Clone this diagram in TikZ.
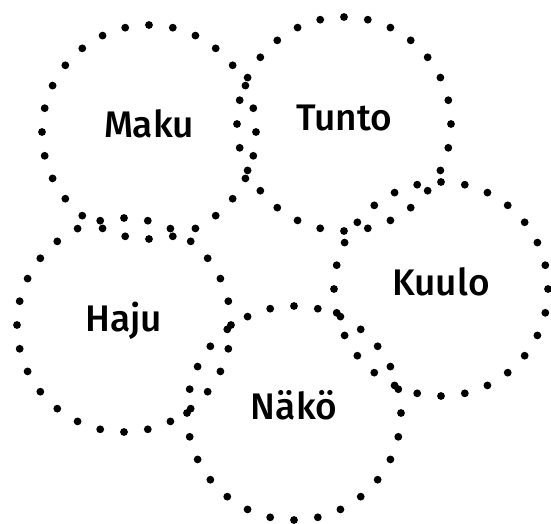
\documentclass[tikz,border=0pt]{standalone}
\usepackage{fontspec}
\setmainfont{Fira Sans}[UprightFont=* Medium]
\begin{document}
\begin{tikzpicture}[x=1pt,y=-1pt,
  ring/.style={circle,minimum size=214pt,inner sep=0pt},
  lbl/.style={anchor=base,font=\fontsize{37}{37}\selectfont},
  dotfill/.style={fill=black}]
\useasboundingbox (0,0) rectangle (551,524);
\node[ring] (maku) at (149,132) {};
\node[ring] (tunto) at (344,124) {};
\node[ring] (haju) at (124,325) {};
\node[ring] (kuulo) at (441,289) {};
\node[ring] (nako) at (294,413) {};
\foreach \c in {maku,tunto,haju,kuulo,nako}{
  \foreach \i in {0,...,27}{
    \fill[dotfill] (\c.center) ++(\i*360/28:107pt) circle (3.9pt);
  }
}
\node[lbl] (tmaku) at ([yshift=-5.5pt]maku.center) {Maku};
\node[lbl] (ttunto) at ([yshift=-6pt]tunto.center) {Tunto};
\node[lbl] (thaju) at ([yshift=-6.5pt]haju.center) {Haju};
\node[lbl] (tkuulo) at ([yshift=-6.5pt]kuulo.center) {Kuulo};
\node[lbl] (tnako) at ([yshift=-6pt]nako.center) {Näkö};
\end{tikzpicture}
\end{document}
